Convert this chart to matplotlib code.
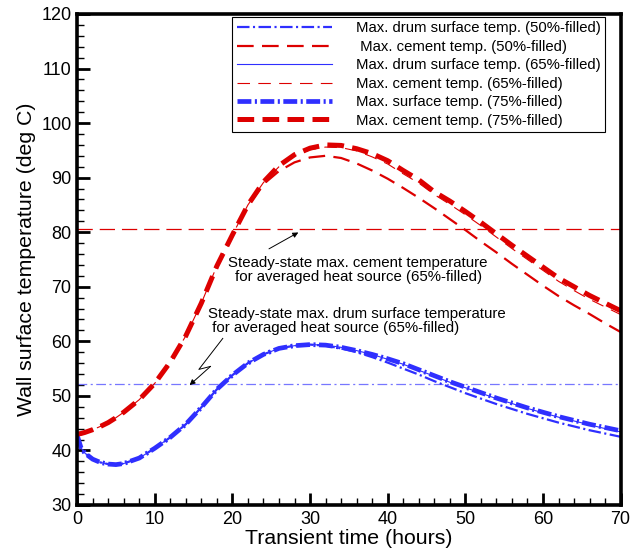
import numpy as np
import matplotlib
matplotlib.use('Agg')
import matplotlib.pyplot as plt

plt.rcParams['font.family'] = ['Liberation Sans', 'DejaVu Sans']
plt.rcParams['lines.scale_dashes'] = False

# transient time (hours)
t = [0, 0.5, 1, 2, 3, 4, 5, 6, 8, 10, 12, 14, 16, 18, 20, 22, 24, 26, 28, 30,
     32, 34, 36, 38, 40, 42, 44, 46, 48, 50, 52, 54, 56, 58, 60, 62, 64, 66, 68, 70]

drum_50 = [42.8, 40.5, 39.5, 38.4, 37.8, 37.5, 37.4, 37.6, 38.6, 40.4, 42.4, 44.8, 47.9, 51.2,
           53.8, 56.0, 57.6, 58.7, 59.2, 59.4, 59.2, 58.7, 58.0, 57.1, 56.1, 55.0, 53.9, 52.7,
           51.6, 50.5, 49.5, 48.5, 47.6, 46.7, 45.9, 45.1, 44.4, 43.7, 43.1, 42.5]
cement_50 = [43.0, 43.1, 43.3, 43.8, 44.4, 45.1, 46.0, 47.0, 49.3, 52.3, 56.2, 61.0, 67.0, 73.8,
             79.5, 84.8, 88.8, 91.2, 92.8, 93.7, 94.0, 93.6, 92.6, 91.3, 89.8, 88.1, 86.3, 84.4,
             82.4, 80.4, 78.3, 76.3, 74.2, 72.2, 70.2, 68.3, 66.6, 65.0, 63.3, 61.7]
drum_65 = [42.8, 40.5, 39.5, 38.4, 37.8, 37.5, 37.4, 37.6, 38.6, 40.4, 42.4, 44.8, 47.9, 51.2,
           53.8, 56.0, 57.6, 58.7, 59.2, 59.4, 59.3, 58.9, 58.3, 57.6, 56.7, 55.8, 54.7, 53.6,
           52.5, 51.5, 50.5, 49.5, 48.6, 47.7, 46.9, 46.1, 45.4, 44.7, 44.0, 43.4]
cement_65 = [43.0, 43.1, 43.3, 43.8, 44.4, 45.1, 46.0, 47.0, 49.3, 52.3, 56.2, 61.0, 67.0, 73.8,
             79.5, 85.0, 89.1, 92.0, 94.0, 95.1, 95.6, 95.5, 94.9, 93.8, 92.5, 90.7, 89.0, 86.9,
             85.1, 83.2, 81.2, 79.1, 77.0, 75.0, 73.0, 71.0, 69.3, 67.7, 66.3, 64.9]
drum_75 = [42.8, 40.5, 39.5, 38.4, 37.8, 37.5, 37.4, 37.6, 38.6, 40.4, 42.4, 44.8, 47.9, 51.2,
           53.8, 56.0, 57.6, 58.7, 59.2, 59.4, 59.3, 58.9, 58.3, 57.6, 56.8, 55.9, 54.8, 53.7,
           52.6, 51.6, 50.6, 49.6, 48.7, 47.8, 47.0, 46.2, 45.5, 44.8, 44.2, 43.6]
cement_75 = [43.0, 43.1, 43.3, 43.8, 44.4, 45.1, 46.0, 47.0, 49.3, 52.3, 56.2, 61.0, 67.0, 73.8,
             79.5, 85.0, 89.2, 92.2, 94.2, 95.4, 96.0, 95.9, 95.3, 94.4, 93.1, 91.3, 89.6, 87.4,
             85.7, 83.8, 81.8, 79.7, 77.6, 75.6, 73.6, 71.6, 70.0, 68.4, 67.0, 65.6]

steady_cement = 80.5
steady_drum = 52.2

labels = ['Max. drum surface temp. (50%-filled)',
          ' Max. cement temp. (50%-filled)',
          'Max. drum surface temp. (65%-filled)',
          'Max. cement temp. (65%-filled)',
          'Max. surface temp. (75%-filled)',
          'Max. cement temp. (75%-filled)']

blue = '#2f2fff'
red = '#dd0000'

fig = plt.figure(figsize=(6.32, 5.58), dpi=100)
ax = fig.add_axes([0.122, 0.095, 0.860, 0.880])

ax.axhline(steady_cement, color=red, lw=0.9, dashes=(11, 5))
ax.axhline(steady_drum, color='#7777ff', lw=0.9, dashes=(7, 2.5, 1.5, 2.5))

ax.plot(t, drum_50, color=blue, lw=1.6, dashes=(9, 2.5, 1.5, 2.5), label=labels[0])
ax.plot(t, cement_50, color=red, lw=1.6, dashes=(12, 6), label=labels[1])
ax.plot(t, drum_65, color=blue, lw=0.8, label=labels[2])
ax.plot(t, cement_65, color=red, lw=0.8, dashes=(9, 6), label=labels[3])
ax.plot(t, drum_75, color=blue, lw=3.4, dashes=(10, 2.5, 1.5, 2.5), label=labels[4])
ax.plot(t, cement_75, color=red, lw=3.6, dashes=(12, 6), label=labels[5])

ax.set_xlim(0, 70)
ax.set_ylim(30, 120)
ax.set_xticks(np.arange(0, 71, 10))
ax.set_yticks(np.arange(30, 121, 10))
ax.set_xticks(np.arange(0, 71, 2), minor=True)
ax.set_yticks(np.arange(30, 121, 2), minor=True)
ax.tick_params(which='major', direction='in', length=9, width=2, labelsize=13, pad=4)
ax.tick_params(which='minor', direction='in', length=5, width=1)
for s in ax.spines.values():
    s.set_linewidth(2.6)

ax.set_xlabel('Transient time (hours)', fontsize=15.3, labelpad=1)
ax.set_ylabel('Wall surface temperature (deg C)', fontsize=15.3, labelpad=4)

leg = ax.legend(loc='upper right', bbox_to_anchor=(0.971, 0.994), borderaxespad=0,
                fontsize=10.7, handlelength=6.4, handletextpad=1.6, labelspacing=0.3,
                fancybox=False, edgecolor='black', framealpha=1, borderpad=0.3)
leg.get_frame().set_linewidth(0.8)

ax.annotate('', xy=(28.8, 80.2), xytext=(24.4, 76.7),
            arrowprops=dict(arrowstyle='-|>', color='black', lw=0.7, mutation_scale=8))
ax.text(36.2, 73.1, 'Steady-state max. cement temperature\nfor averaged heat source (65%-filled)',
        ha='center', va='center', fontsize=10.8, multialignment='center', linespacing=1.0)

bolt_t = [18.76, 15.68, 17.18]
bolt_v = [60.53, 54.85, 55.4]
ax.plot(bolt_t, bolt_v, color='black', lw=0.7)
ax.annotate('', xy=(14.49, 51.98), xytext=(17.18, 55.4),
            arrowprops=dict(arrowstyle='-|>', color='black', lw=0.7, mutation_scale=8,
                            shrinkA=0, shrinkB=0))
ax.text(16.9, 63.8, 'Steady-state max. drum surface temperature\n for averaged heat source (65%-filled)',
        ha='left', va='center', fontsize=10.8, multialignment='left', linespacing=1.0)

fig.savefig('out.png', dpi=100)
plt.close()
